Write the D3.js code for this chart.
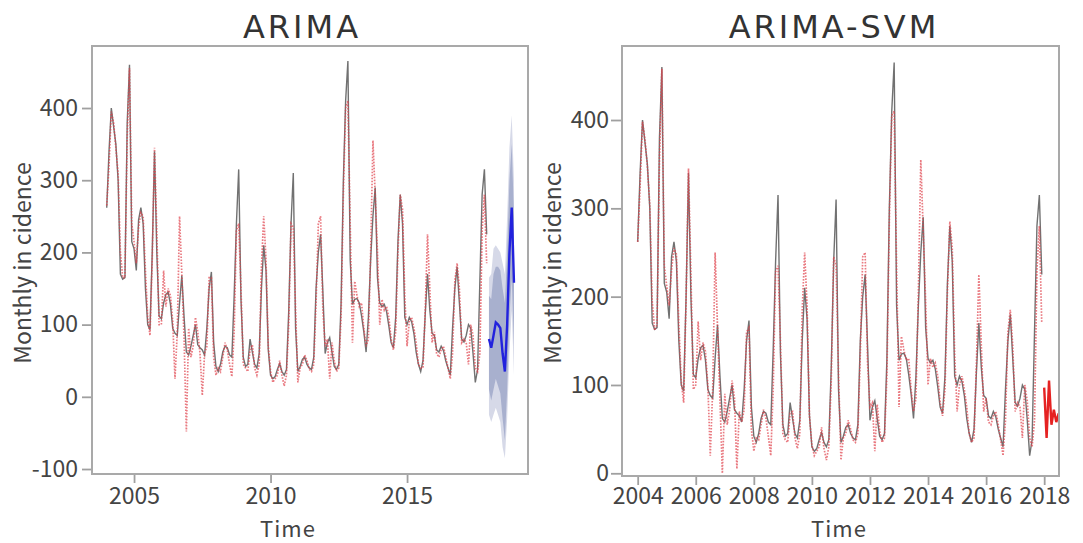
<!DOCTYPE html>
<html>
<head>
<meta charset="utf-8">
<script src="https://cdn.jsdelivr.net/npm/d3@7"></script>
<style>
  body { margin: 0; background: #fff; }
  text { font-family: "Noto Sans CJK JP", "Noto Sans", sans-serif; }
</style>
</head>
<body>
<div id="chart"></div>
<script>
// monthly incidence, jan 2004 .. dec 2017 (one row per year)
var startYear = 2004;
var actual = [
  262, 340, 400, 375, 350, 300, 170, 163, 165, 380, 460, 215,
  205, 175, 245, 262, 240, 150, 100,  93, 200, 340, 200, 112,
  108, 130, 142, 145, 128,  95,  88,  85, 130, 168, 110,  62,
   58,  70,  85, 100,  72,  68,  65,  58,  95, 150, 173,  75,
   42,  35,  45,  62,  70,  68,  58,  55, 140, 240, 315, 135,
   55,  42,  45,  80,  62,  45,  40,  60, 150, 210, 175,  65,
   30,  25,  28,  38,  46,  35,  30,  38, 120, 240, 310,  95,
   35,  42,  52,  55,  45,  40,  38,  55, 150, 200, 225, 145,
   60,  75,  82,  62,  42,  38,  45, 130, 300, 410, 465, 190,
  128, 135, 136, 130, 112,  90,  62, 110, 190, 250, 290, 165,
  130, 125, 128, 118,  98,  75,  68, 110, 215, 280, 240, 110,
  100, 110, 104,  88,  62,  45,  35,  50, 115, 170, 120,  88,
   85,  65,  62,  70,  64,  50,  40,  30,  95, 150, 180, 130,
   80,  76,  85, 100,  95,  60,  20,  38, 160, 280, 315, 225
];

// fitted values of the ARIMA model
var arimaFitted = [
  265, 320, 395, 380, 345, 310, 200, 165, 165, 360, 455, 240,
  215, 185, 235, 255, 250, 175, 110,  85, 190, 345, 230, 100,
  100, 175, 125, 150, 140, 105,  25,  90, 250, 170,  80, -48,
   95,  55,  70, 110,  90,  60,   2,  60,  70, 165, 165,  55,
   30,  40,  35,  55,  75,  65,  45,  28,  90, 230, 240, 150,
   45,  40,  35,  65,  72,  40,  30,  45, 180, 250, 190,  70,
   35,  20,  25,  30,  50,  30,  15,  30, 100, 240, 235, 120,
   20,  40,  45,  58,  50,  38,  35,  45, 130, 240, 250, 120,
   70,  80,  25,  75,  50,  35,  40, 110, 280, 400, 410, 240,
   75, 160, 140, 125, 130,  95,  70,  80, 200, 355, 280, 200,
  100, 135, 120, 125, 110,  80,  65,  90, 200, 280, 260, 140,
   70, 105, 110,  95,  75,  45,  40,  40, 120, 225, 150,  75,
   90,  60,  55,  65,  70,  55,  40,  25,  60, 160, 185, 150,
   75,  80,  75,  45, 100,  85,  40,  35,  60, 230, 280, 185
];

// fitted values of the ARIMA-SVM model
var svmFitted = [
  262, 325, 398, 378, 348, 305, 195, 162, 168, 355, 458, 235,
  212, 190, 230, 255, 248, 170, 105,  80, 195, 345, 225,  95,
  100, 172, 128, 148, 138, 100,  20,  95, 250, 165,  85,   0,
   90,  55,  72, 105,  85,   5,  70,  58,  72, 160, 165,  50,
   25,  40,  38,  55,  72,  62,  42,  20,  95, 228, 235, 150,
   45,  38,  35,  68,  70,  40,  28,  45, 185, 250, 190,  65,
   32,  20,  25,  30,  52,  28,  15,  30, 105, 245, 235, 115,
   15,  40,  45,  60,  50,  38,  35,  45, 135, 245, 250, 125,
   75,  80,  25,  78,  48,  35,  40, 110, 285, 405, 410, 235,
   75, 155, 140, 128, 130,  95,  70,  85, 205, 355, 275, 195,
  100, 130, 120, 125, 110,  80,  65,  95, 205, 285, 255, 135,
   70, 100, 110,  95,  75,  45,  35,  40, 125, 225, 145,  70,
   85,  58,  55,  65,  70,  55,  38,  20,  60, 160, 185, 145,
   70,  80,  75,  40, 100,  82,  40,  30,  60, 230, 280, 170
];

// 2018 forecasts
var forecastYear = 2018;
var arimaForecast = [80, 68, 85, 103, 100, 95, 60, 35, 100, 200, 262, 158];
var arimaLo80 = [10, -5, 10, 25, 15, 5, -30, -60, 10, 110, 165, 70];
var arimaHi80 = [140, 135, 170, 180, 180, 175, 150, 130, 200, 300, 350, 250];
var arimaLo95 = [-25, -35, -25, -15, -25, -35, -70, -85, -30, 60, 120, 30];
var arimaHi95 = [165, 170, 205, 210, 205, 200, 185, 170, 250, 345, 390, 300];
var svmForecast = [97, 40, 105, 55, 72, 58, 68];

var leftYTicks = [-100, 0, 100, 200, 300, 400];
var leftXTicks = [2005, 2010, 2015];
var rightYTicks = [0, 100, 200, 300, 400];
var rightXTicks = [2004, 2006, 2008, 2010, 2012, 2014, 2016, 2018];

var svg = d3.select("#chart")
  .append("svg")
    .attr("width", 1083)
    .attr("height", 543);

function toPoints(values, base) {
  return values.map(function (v, i) { return {t: base + i / 12, v: v}; });
}

function drawPanel(p) {
  var x = d3.scaleLinear().domain(p.xDomain).range([p.left, p.right]);
  var y = d3.scaleLinear().domain(p.yDomain).range([p.bottom, p.top]);
  var g = svg.append("g");

  var line = d3.line()
    .x(function (d) { return x(d.t); })
    .y(function (d) { return y(d.v); });

  // forecast intervals (only ARIMA has them)
  if (p.bands) {
    var area = d3.area()
      .x(function (d) { return x(d.t); })
      .y0(function (d) { return y(d.lo); })
      .y1(function (d) { return y(d.hi); });
    p.bands.forEach(function (b) {
      var pts = b.lo.map(function (lo, i) {
        return {t: forecastYear + i / 12, lo: lo, hi: b.hi[i]};
      });
      g.append("path")
        .datum(pts)
        .attr("d", area)
        .style("fill", b.color)
        .style("opacity", b.opacity);
    });
  }

  // observed
  g.append("path")
    .datum(toPoints(actual, startYear))
    .attr("d", line)
    .style("fill", "none")
    .style("stroke", "#4d4d4d")
    .style("stroke-width", 1.4)
    .style("opacity", 0.8);

  // fitted, red dotted
  g.append("path")
    .datum(toPoints(p.fitted, startYear))
    .attr("d", line)
    .style("fill", "none")
    .style("stroke", "#e0424c")
    .style("stroke-width", 1.7)
    .style("stroke-dasharray", "1.6,1.4")
    .style("opacity", 0.7);

  // forecast line
  g.append("path")
    .datum(toPoints(p.forecast, forecastYear))
    .attr("d", line)
    .style("fill", "none")
    .style("stroke", p.forecastColor)
    .style("stroke-width", 2.4);

  // frame
  g.append("rect")
    .attr("x", p.left)
    .attr("y", p.top)
    .attr("width", p.right - p.left)
    .attr("height", p.bottom - p.top)
    .style("fill", "none")
    .style("stroke", "#a9a9a9")
    .style("stroke-width", 2);

  var plain = function (d) { return String(d); };   // keep the ascii hyphen in -100
  var yAxis = g.append("g")
    .attr("transform", "translate(" + (p.left - 1) + ",0)")
    .call(d3.axisLeft(y).tickValues(p.yTicks).tickFormat(plain).tickSize(p.yTickSize).tickPadding(p.yTickPad));
  var xAxis = g.append("g")
    .attr("transform", "translate(0," + (p.bottom + 1) + ")")
    .call(d3.axisBottom(x).tickValues(p.xTicks).tickFormat(plain).tickSize(8).tickPadding(p.bottom > 475 ? 3 : 5));

  [yAxis, xAxis].forEach(function (a) {
    a.select(".domain").remove();
    a.selectAll(".tick line").style("stroke", "#a0a0a0").style("stroke-width", 1.8);
    a.selectAll(".tick text")
      .style("fill", "#444")
      .style("font-size", "23px")
      .style("font-family", "'Noto Sans CJK JP', 'Noto Sans', sans-serif");
  });

  // title
  g.append("text")
    .attr("x", p.titleX)
    .attr("y", 38)
    .style("text-anchor", "middle")
    .style("font-family", "'DejaVu Sans', sans-serif")
    .style("font-size", "32px")
    .style("letter-spacing", "3px")
    .style("fill", "#333")
    .text(p.title);

  // axis titles
  g.append("text")
    .attr("x", p.timeX)
    .attr("y", 536.5)
    .style("text-anchor", "middle")
    .style("font-size", "22px")
    .style("letter-spacing", "1px")
    .style("fill", "#444")
    .text("Time");

  g.append("text")
    .attr("transform", "translate(" + (p.left - 61) + ",263) rotate(-90)")
    .style("text-anchor", "middle")
    .style("font-size", "23px")
    .style("fill", "#444")
    .text("Monthly in cidence");
}

drawPanel({
  title: "ARIMA", titleX: 302, timeX: 288,
  left: 92, right: 528, top: 46, bottom: 474,
  xDomain: [2003.46, 2019.43], yDomain: [-106.9, 485.9],
  xTicks: leftXTicks, yTicks: leftYTicks, yTickSize: 9, yTickPad: 4,
  fitted: arimaFitted, forecast: arimaForecast, forecastColor: "#2222dd",
  bands: [
    {lo: arimaLo95, hi: arimaHi95, color: "#d6d9e8", opacity: 1},
    {lo: arimaLo80, hi: arimaHi80, color: "#98a1c6", opacity: 0.75}
  ]
});

drawPanel({
  title: "ARIMA-SVM", titleX: 834, timeX: 839,
  left: 622, right: 1059, top: 46, bottom: 476,
  xDomain: [2003.46, 2018.51], yDomain: [-3.06, 483.8],
  xTicks: rightXTicks, yTicks: rightYTicks, yTickSize: 10, yTickPad: 2,
  fitted: svmFitted, forecast: svmForecast, forecastColor: "#e52222",
  bands: null
});
</script>
</body>
</html>
